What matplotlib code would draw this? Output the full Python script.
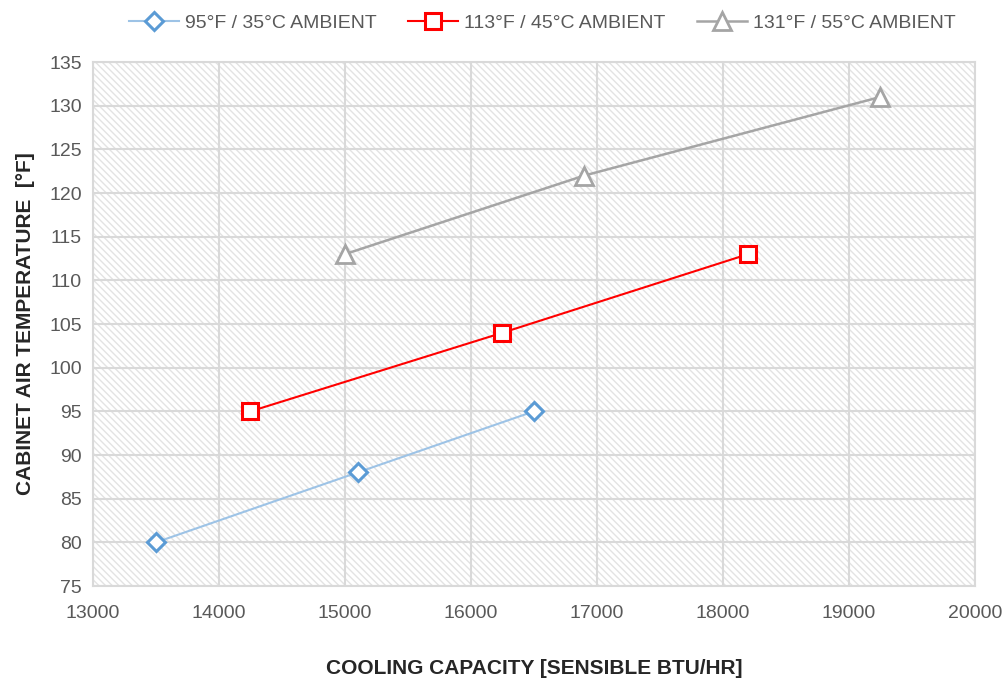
import matplotlib
matplotlib.use("Agg")
import matplotlib.pyplot as plt
from matplotlib.patches import Rectangle

plt.rcParams['font.family'] = ['Liberation Sans', 'DejaVu Sans']
plt.rcParams['hatch.linewidth'] = 1.0
plt.rcParams['hatch.color'] = '#e3e3e3'

series_labels = ["95°F / 35°C AMBIENT", "113°F / 45°C AMBIENT", "131°F / 55°C AMBIENT"]
x_95 = [13500, 15100, 16500]
y_95 = [80, 88, 95]
x_113 = [14250, 16250, 18200]
y_113 = [95, 104, 113]
x_131 = [15000, 16900, 19250]
y_131 = [113, 122, 131]
x_ticks = [13000, 14000, 15000, 16000, 17000, 18000, 19000, 20000]
y_ticks = [75, 80, 85, 90, 95, 100, 105, 110, 115, 120, 125, 130, 135]

fig = plt.figure(figsize=(10.04, 6.8), dpi=100)
ax = fig.add_axes([0.0926, 0.1382, 0.8784, 0.7706])
ax.set_xlim(13000, 20000)
ax.set_ylim(75, 135)

ax.add_patch(Rectangle((0, 0), 1, 1, transform=ax.transAxes, facecolor='white',
                       hatch='\\\\\\\\\\', edgecolor='#e3e3e3', linewidth=0, zorder=0))

ax.set_xticks(x_ticks)
ax.set_yticks(y_ticks)
ax.grid(True, color='#d9d9d9', linewidth=1.5, zorder=1)
ax.set_axisbelow(True)
for s in ax.spines.values():
    s.set_color('#d9d9d9')
    s.set_linewidth(1.5)
ax.tick_params(axis='x', length=0, labelsize=14, colors='#595959', pad=14)
ax.tick_params(axis='y', length=0, labelsize=14, colors='#595959', pad=8)

ax.plot(x_95, y_95, color='#9dc3e6', linewidth=1.5, marker='D', markersize=9,
        markerfacecolor='white', markeredgecolor='#5b9bd5', markeredgewidth=2.2,
        label=series_labels[0], zorder=3)
ax.plot(x_113, y_113, color='#ff0000', linewidth=1.5, marker='s', markersize=12,
        markerfacecolor='white', markeredgecolor='#ff0000', markeredgewidth=2.2,
        label=series_labels[1], zorder=3)
ax.plot(x_131, y_131, color='#a5a5a5', linewidth=1.8, marker='^', markersize=13,
        markerfacecolor='white', markeredgecolor='#a5a5a5', markeredgewidth=2.0,
        label=series_labels[2], zorder=3)

ax.set_xlabel("COOLING CAPACITY [SENSIBLE BTU/HR]", fontsize=15, fontweight='bold',
              color='#262626', labelpad=26)
ax.set_ylabel("CABINET AIR TEMPERATURE  [°F]", fontsize=15, fontweight='bold',
              color='#262626', labelpad=10)

leg = fig.legend(loc='upper center', bbox_to_anchor=(0.54, 1.005), ncol=3, frameon=False,
                 fontsize=14, handlelength=2.6, columnspacing=1.6, handletextpad=0.3)
for t in leg.get_texts():
    t.set_color('#595959')

fig.savefig("out.png", dpi=100)
